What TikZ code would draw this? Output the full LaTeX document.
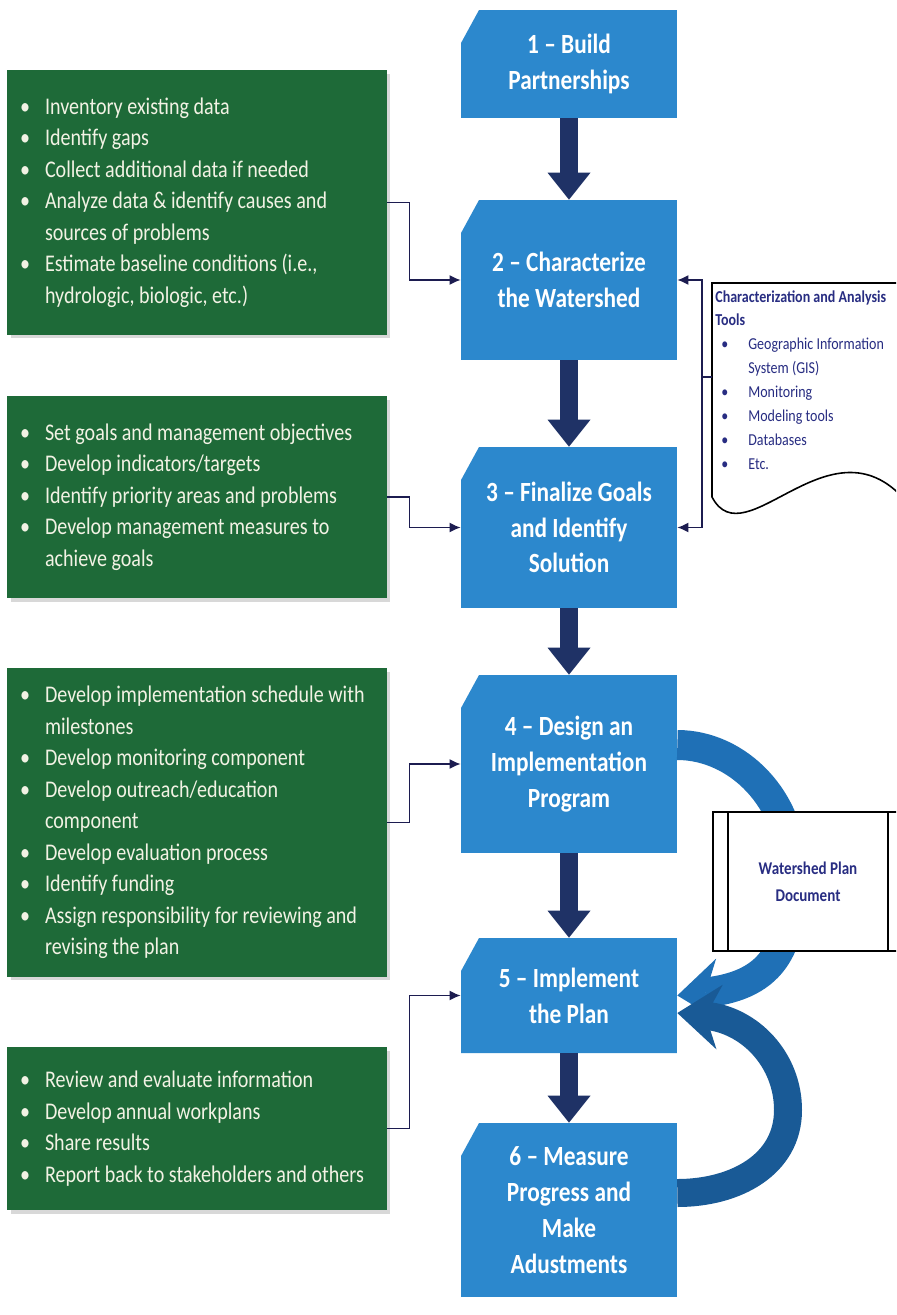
\documentclass[tikz,border=0pt]{standalone}
\usepackage{fontspec}
\setmainfont{Carlito}[FakeStretch=0.84]
\usetikzlibrary{arrows.meta,positioning,shadows}
\definecolor{stepblue}{RGB}{44,136,205}
\definecolor{taskgreen}{RGB}{30,106,56}
\definecolor{flownavy}{RGB}{31,50,102}
\definecolor{linknavy}{RGB}{28,28,80}
\definecolor{notenavy}{RGB}{40,45,130}
\definecolor{loopblue}{RGB}{31,112,182}
\definecolor{loopdark}{RGB}{25,90,150}
\definecolor{paletext}{RGB}{242,242,228}
\newcommand{\gb}{\hspace*{0.16cm}\makebox[0.5cm][l]{\textbullet}}
\newcommand{\gi}{\hspace*{0.66cm}}
\newcommand{\tb}{\hspace*{0.12cm}\makebox[0.54cm][l]{\textbullet}}
\newcommand{\ti}{\hspace*{0.66cm}}
\tikzset{
    stepbox/.style={minimum width=4.32cm, inner sep=0pt, align=center, text=white,
        font=\bfseries\fontsize{15.8}{20.4}\selectfont,
        path picture={\fill[stepblue] ([yshift=-0.66cm]path picture bounding box.north west)
            -- ([xshift=0.36cm]path picture bounding box.north west)
            -- (path picture bounding box.north east) -- (path picture bounding box.south east)
            -- (path picture bounding box.south west) -- cycle;}},
    taskbox/.style={fill=taskgreen, text=paletext, text width=7.4cm, inner xsep=0.1cm, inner ysep=0pt,
        align=flush left, font=\fontsize{13.6}{17.9}\selectfont,
        drop shadow={shadow xshift=2pt, shadow yshift=-2pt, opacity=0.3}},
    flow/.style={line width=0.36cm, flownavy, -{Triangle[length=0.54cm, width=0.86cm, line width=0pt]}},
    link/.style={linknavy, line width=0.9pt, -{Latex[length=2.2mm, width=2mm]}}
}

\begin{document}
\begin{tikzpicture}[
        x=0.02cm, y=-0.02cm,
        toolnote/.style={anchor=north west, inner sep=0pt, align=left, text=notenavy,
            font=\fontsize{9.5}{13.6}\selectfont},
        plandoc/.style={draw, line width=1pt, fill=white, minimum width=3.8cm, minimum height=2.78cm,
            align=center, text=notenavy, font=\bfseries\fontsize{10.2}{15.3}\selectfont},
        loopA/.style={loopblue, line width=0.6cm, -{Stealth[length=0.85cm, width=1.3cm, inset=0.28cm, line width=0pt]}},
        loopB/.style={loopdark, line width=0.56cm, -{Stealth[length=0.85cm, width=1.3cm, inset=0.28cm, line width=0pt]}}
    ]
    \useasboundingbox (0,0) rectangle (896,1315);
    \clip (0,0) rectangle (896,1315);
    \fill[white] (0,0) rectangle (896,1315);

    % Steps
    \node[stepbox, minimum height=2.16cm] (b1) at (569,64) {1 -- Build\\Partnerships};
    \node[stepbox, minimum height=3.2cm] (b2) at (569,280) {2 -- Characterize\\the Watershed};
    \node[stepbox, minimum height=3.22cm] (b3) at (569,527.5) {3 -- Finalize Goals\\and Identify\\Solution};
    \node[stepbox, minimum height=3.56cm] (b4) at (569,764) {4 -- Design an\\Implementation\\Program};
    \node[stepbox, minimum height=2.3cm] (b5) at (569,995.5) {5 -- Implement\\the Plan};
    \node[stepbox, minimum height=3.48cm] (b6) at (569,1210) {6 -- Measure\\Progress and\\Make\\Adustments};

    \draw[flow] (b1) -- (b2);
    \draw[flow] (b2) -- (b3);
    \draw[flow] (b3) -- (b4);
    \draw[flow] (b4) -- (b5);
    \draw[flow] (b5) -- (b6);

    % Tasks
    \node[taskbox, minimum height=5.3cm] (g1) at (197,202.5) {\gb Inventory existing data\\
        \gb Identify gaps\\
        \gb Collect additional data if needed\\
        \gb Analyze data \& identify causes and\\
        \gi sources of problems\\
        \gb Estimate baseline conditions (i.e.,\\
        \gi hydrologic, biologic, etc.)};
    \node[taskbox, minimum height=4.04cm] (g2) at (197,497) {\gb Set goals and management objectives\\
        \gb Develop indicators/targets\\
        \gb Identify priority areas and problems\\
        \gb Develop management measures to\\
        \gi achieve goals};
    \node[taskbox, minimum height=6.18cm] (g3) at (197,822.5) {\gb Develop implementation schedule with\\
        \gi milestones\\
        \gb Develop monitoring component\\
        \gb Develop outreach/education\\
        \gi component\\
        \gb Develop evaluation process\\
        \gb Identify funding\\
        \gb Assign responsibility for reviewing and\\
        \gi revising the plan};
    \node[taskbox, minimum height=3.26cm] (g4) at (197,1128.5) {\gb Review and evaluate information\\
        \gb Develop annual workplans\\
        \gb Share results\\
        \gb Report back to stakeholders and others};

    \draw[link] (g1.east) -- ++(22,0) |- (b2.west);
    \draw[link] (g2.east) -- ++(22,0) |- (b3.west);
    \draw[link] (g3.east) -- ++(22,0) |- (b4.west);
    \draw[link] (g4.east) -- ++(22,0) |- (b5.west);

    % Tools
    \draw[line width=0.9pt, fill=white] (712,283) -- (905,283) -- (905,500)
        .. controls (830,415) and (745,560) .. (712,497) -- cycle;
    \node[toolnote] (tools) at (715,290) {\textbf{Characterization and Analysis}\\
        \textbf{Tools}\\
        \tb Geographic Information\\
        \ti System (GIS)\\
        \tb Monitoring\\
        \tb Modeling tools\\
        \tb Databases\\
        \tb Etc.};
    \coordinate (toolsin) at (712,377);
    \draw[link] (toolsin) -- ++(-10,0) |- (b2.east);
    \draw[link] (toolsin) -- ++(-10,0) |- (b3.east);

    % Plan loop
    \draw[loopA] ([yshift=0.38cm]b4.east) .. controls (738,745) and (792,800) .. (792,870)
        .. controls (794,945) and (775,985) .. (b5.east);
    \draw[loopB] ([yshift=0.34cm]b6.east) .. controls (735,1193) and (788,1165) .. (788,1110)
        .. controls (788,1060) and (750,1020) .. ([yshift=-0.35cm]b5.east);
    \node[plandoc] (plan) at (808,881.5) {Watershed Plan\\Document};
    \draw[line width=1pt] ([xshift=0.32cm]plan.north west) -- ([xshift=0.32cm]plan.south west);
    \draw[line width=1pt] ([xshift=-0.32cm]plan.north east) -- ([xshift=-0.32cm]plan.south east);
\end{tikzpicture}
\end{document}
